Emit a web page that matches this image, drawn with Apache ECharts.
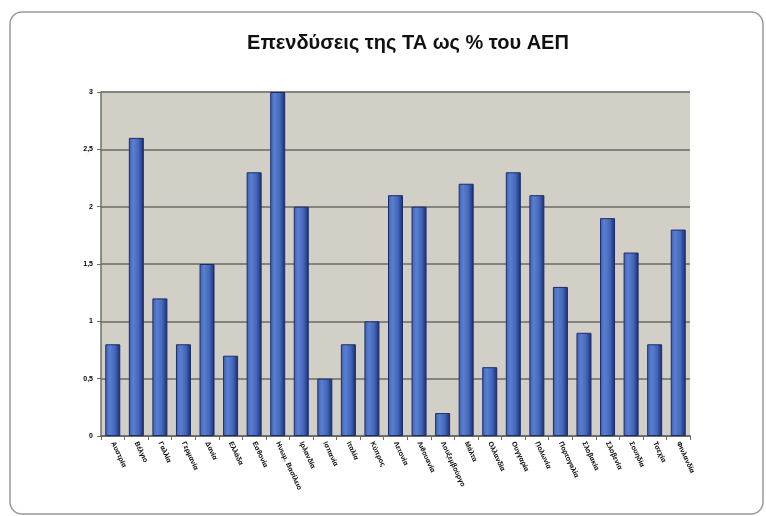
<!DOCTYPE html>
<html>
<head>
<meta charset="utf-8">
<script src="https://cdn.jsdelivr.net/npm/echarts@6/dist/echarts.min.js"></script>
<style>
	html, body { margin: 0; padding: 0; background: #fff; }
	#chart { width: 766px; height: 516px; }
</style>
</head>
<body>
<div id="chart"></div>
<script>
// χώρες (ετικέτες άξονα x)
const countries = ['Αυστρία', 'Βέλγιο', 'Γαλλία', 'Γερμανία', 'Δανία', 'Ελλάδα', 'Εσθονία',
	'Ηνωμ. Βασίλειο', 'Ιρλανδία', 'Ισπανία', 'Ιταλία', 'Κύπρος', 'Λετονία', 'Λιθουανία',
	'Λουξεμβούργο', 'Μάλτα', 'Ολλανδία', 'Ουγγαρία', 'Πολωνία', 'Πορτογαλία', 'Σλοβακία',
	'Σλοβενία', 'Σουηδία', 'Τσεχία', 'Φινλανδία'];

// επενδύσεις ΤΑ ως % του ΑΕΠ
const invest = [0.8, 2.6, 1.2, 0.8, 1.5, 0.7, 2.3, 3.0, 2.0, 0.5, 0.8, 1.0, 2.1, 2.0,
	0.2, 2.2, 0.6, 2.3, 2.1, 1.3, 0.9, 1.9, 1.6, 0.8, 1.8];

const yTicks = [0, 0.5, 1, 1.5, 2, 2.5, 3];

const myChart = echarts.init(document.getElementById('chart'));

let option = {
	backgroundColor: '#ffffff',
	animation: false,
	title: {
		text: 'Επενδύσεις της ΤΑ ως % του ΑΕΠ',
		left: 403,
		top: 28,
		textAlign: 'center',
		textStyle: {
			fontFamily: 'Liberation Sans, Arial',
			fontSize: 20,
			fontWeight: 'bold',
			color: '#111'
		}
	},
	graphic: [{
		type: 'rect',
		shape: { x: 10, y: 12, width: 753, height: 502, r: 12 },
		style: { fill: 'none', stroke: '#9a9a9a', lineWidth: 1.5 },
		z: -10
	}],
	grid: {
		left: 101,
		right: 76,
		top: 92,
		bottom: 80,
		show: true,
		backgroundColor: '#d2cfc7',
		borderWidth: 0
	},
	xAxis: {
		type: 'category',
		data: countries,
		axisLine: { lineStyle: { color: '#6e6e68', width: 2 } },
		axisTick: { show: true, length: 4, lineStyle: { color: '#6e6e68' } },
		axisLabel: {
			interval: 0,
			rotate: -65,
			fontSize: 7,
			fontWeight: 'bold',
			color: '#000',
			margin: 6
		}
	},
	yAxis: {
		type: 'value',
		min: yTicks[0],
		max: yTicks[yTicks.length - 1],
		interval: 0.5,
		axisLine: { show: true, lineStyle: { color: '#6e6e68', width: 1.5 } },
		axisTick: { show: true, length: 4, lineStyle: { color: '#6e6e68' } },
		axisLabel: {
			fontSize: 7,
			fontWeight: 'bold',
			color: '#000',
			margin: 8,
			formatter: function(v) { return String(v).replace('.', ','); }
		},
		splitLine: { lineStyle: { color: '#85847c', width: 2 } }
	},
	series: [{
		type: 'bar',
		data: invest,
		barWidth: 15,
		itemStyle: {
			color: new echarts.graphic.LinearGradient(0, 0, 1, 0, [
				{ offset: 0, color: '#3f61b3' },
				{ offset: 0.3, color: '#5a7fd0' },
				{ offset: 0.65, color: '#4368bb' },
				{ offset: 1, color: '#1b2a6e' }
			]),
			borderColor: '#1d2b68',
			borderWidth: 1
		}
	}]
};

myChart.setOption(option);
</script>
</body>
</html>
